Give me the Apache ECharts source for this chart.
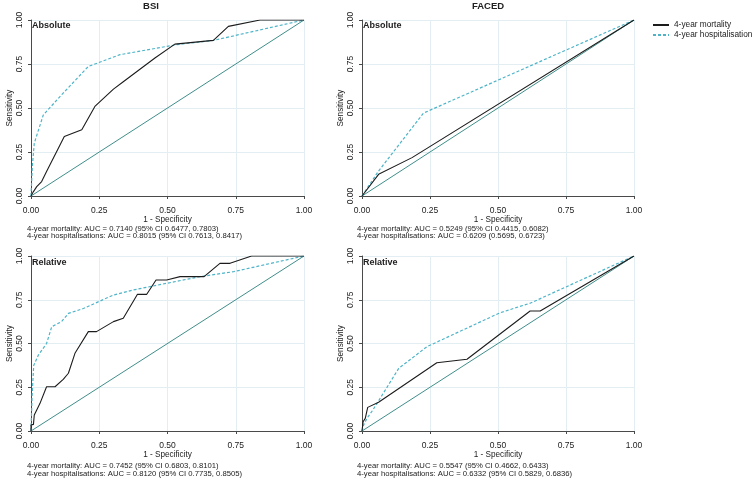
<!DOCTYPE html>
<html><head><meta charset="utf-8">
<script src="https://cdn.jsdelivr.net/npm/echarts@6/dist/echarts.min.js"></script>
<style>html,body{margin:0;padding:0;background:#fff}#c{width:753px;height:480px}</style>
</head><body><div id="c"></div>
<script>
// ---- data (1 - specificity, sensitivity) ----
const bsiAbsMort = [[0,0],[0.009,0.025],[0.021,0.053],[0.039,0.082],[0.057,0.139],[0.122,0.338],[0.186,0.376],[0.234,0.509],[0.302,0.607],[0.338,0.649],[0.454,0.784],[0.527,0.863],[0.668,0.884],[0.723,0.964],[0.839,1],[1,1]];
const bsiAbsHosp = [[0,0],[0.005,0.17],[0.012,0.30],[0.045,0.46],[0.106,0.565],[0.21,0.736],[0.326,0.803],[0.534,0.86],[0.668,0.884],[1,1]];
const facedAbsMort = [[0,0],[0.061,0.123],[0.184,0.218],[1,1]];
const facedAbsHosp = [[0,0],[0.06,0.14],[0.226,0.471],[1,1]];
const bsiRelMort = [[0,0],[0,0.034],[0.009,0.038],[0.012,0.091],[0.021,0.12],[0.033,0.158],[0.057,0.253],[0.088,0.253],[0.118,0.295],[0.137,0.33],[0.161,0.444],[0.21,0.568],[0.24,0.568],[0.302,0.625],[0.338,0.644],[0.39,0.781],[0.424,0.781],[0.458,0.863],[0.497,0.863],[0.546,0.882],[0.634,0.882],[0.692,0.958],[0.729,0.958],[0.808,1],[1,1]];
const bsiRelHosp = [[0,0],[0.004,0.2],[0.01,0.375],[0.027,0.434],[0.057,0.50],[0.076,0.596],[0.112,0.625],[0.137,0.672],[0.192,0.70],[0.302,0.777],[0.375,0.806],[0.497,0.844],[0.619,0.882],[0.741,0.910],[1,1]];
const facedRelMort = [[0,0],[0.004,0.053],[0.012,0.072],[0.021,0.135],[0.061,0.164],[0.275,0.39],[0.386,0.41],[0.618,0.686],[0.655,0.686],[1,1]];
const facedRelHosp = [[0,0],[0.006,0.034],[0.018,0.072],[0.04,0.12],[0.135,0.358],[0.239,0.482],[0.508,0.676],[0.618,0.73],[1,1]];
const refLine = [[0,0],[1,1]];
const tickValues = [0, 0.25, 0.5, 0.75, 1];
const seriesNames = ['4-year mortality', '4-year hospitalisation'];
const colTitles = ['BSI', 'FACED'];
const rowTitles = ['Absolute', 'Relative'];
const aucTexts = [
  ['4-year mortality: AUC = 0.7140 (95% CI 0.6477, 0.7803)', '4-year hospitalisations: AUC = 0.8015 (95% CI 0.7613, 0.8417)'],
  ['4-year mortality: AUC = 0.5249 (95% CI 0.4415, 0.6082)', '4-year hospitalisations: AUC = 0.6209 (0.5695, 0.6723)'],
  ['4-year mortality: AUC = 0.7452 (95% CI 0.6803, 0.8101)', '4-year hospitalisations: AUC = 0.8120 (95% CI 0.7735, 0.8505)'],
  ['4-year mortality: AUC = 0.5547 (95% CI 0.4662, 0.6433)', '4-year hospitalisations: AUC = 0.6332 (95% CI 0.5829, 0.6836)']
];
const panels = [[bsiAbsMort, bsiAbsHosp],[facedAbsMort, facedAbsHosp],[bsiRelMort, bsiRelHosp],[facedRelMort, facedRelHosp]];

// ---- layout / style ----
const FF = '"Liberation Sans", Arial, sans-serif';
const grids = [
  {left:31, top:20, width:273, height:176},
  {left:362, top:20, width:272, height:176},
  {left:31, top:256, width:273, height:175},
  {left:362, top:256, width:272, height:175}
];
const axisCol = '#4a4a4a', gridCol = '#e3eef3', textCol = '#222';
const mortCol = '#1c1c1c', hospCol = '#4db4c8', refCol = '#3f8e8a';

const xAxes = [], yAxes = [], series = [];
grids.forEach((g, i) => {
  xAxes.push({
    type:'value', gridIndex:i, min:tickValues[0], max:tickValues[tickValues.length-1], interval:0.25, offset:5,
    axisLine:{show:true, lineStyle:{color:axisCol, width:1}},
    axisTick:{show:true, length:3, lineStyle:{color:axisCol}},
    axisLabel:{fontSize:8.5, color:textCol, margin:5, fontFamily:FF, formatter:v=>v.toFixed(2)},
    splitLine:{show:true, lineStyle:{color:gridCol, width:1}},
    name:'1 - Specificity', nameLocation:'middle', nameGap:15,
    nameTextStyle:{fontSize:8.2, color:textCol, fontFamily:FF}
  });
  yAxes.push({
    type:'value', gridIndex:i, min:tickValues[0], max:tickValues[tickValues.length-1], interval:0.25, offset:5,
    axisLine:{show:true, lineStyle:{color:axisCol, width:1}},
    axisTick:{show:true, length:3, lineStyle:{color:axisCol}},
    axisLabel:{fontSize:8.5, color:textCol, margin:2, rotate:90, fontFamily:FF, formatter:v=>v.toFixed(2)},
    splitLine:{show:true, lineStyle:{color:gridCol, width:1}},
    name:'Sensitivity', nameLocation:'middle', nameGap:12,
    nameTextStyle:{fontSize:8.2, color:textCol, fontFamily:FF}
  });
  series.push({type:'line', name:'ref'+i, xAxisIndex:i, yAxisIndex:i, data:refLine, symbol:'none', silent:true,
    lineStyle:{color:refCol, width:1}, itemStyle:{color:refCol}, z:2});
  series.push({type:'line', name:seriesNames[0], xAxisIndex:i, yAxisIndex:i, data:panels[i][0], symbol:'none',
    lineStyle:{color:mortCol, width:1.1}, itemStyle:{color:mortCol}, z:4});
  series.push({type:'line', name:seriesNames[1], xAxisIndex:i, yAxisIndex:i, data:panels[i][1], symbol:'none',
    lineStyle:{color:hospCol, width:1.2, type:[3,2]}, itemStyle:{color:hospCol}, z:3});
});

const graphics = [];
function txt(s, x, y, size, bold, align) {
  graphics.push({type:'text', x:x, y:y, silent:true, style:{text:s, fill:textCol, fontSize:size, fontFamily:FF,
    fontWeight: bold ? 'bold' : 'normal', textAlign:align, align:align, textVerticalAlign:'middle', verticalAlign:'middle'}});
}
txt(colTitles[0], 151, 6, 9.5, true, 'center');
txt(colTitles[1], 488, 6, 9.5, true, 'center');
txt(rowTitles[0], 32, 26, 9, true, 'left');
txt(rowTitles[0], 363, 26, 9, true, 'left');
txt(rowTitles[1], 32, 263, 9, true, 'left');
txt(rowTitles[1], 363, 263, 9, true, 'left');
const aucPos = [[27,228.5],[357,228.5],[27,466],[357,466]];
aucTexts.forEach((t, i) => {
  txt(t[0], aucPos[i][0], aucPos[i][1], 7.7, false, 'left');
  txt(t[1], aucPos[i][0], aucPos[i][1] + 7.5, 7.7, false, 'left');
});

const chart = echarts.init(document.getElementById('c'), null, {renderer:'canvas'});
chart.setOption({
  animation:false,
  backgroundColor:'#fff',
  grid:grids,
  xAxis:xAxes,
  yAxis:yAxes,
  legend:{orient:'vertical', left:652, top:21, padding:0, itemWidth:16, itemHeight:8, itemGap:2,
    itemStyle:{opacity:0, borderWidth:0},
    data:seriesNames, textStyle:{fontSize:8.3, color:textCol, fontFamily:FF}},
  graphic:graphics,
  series:series
});
</script></body></html>
